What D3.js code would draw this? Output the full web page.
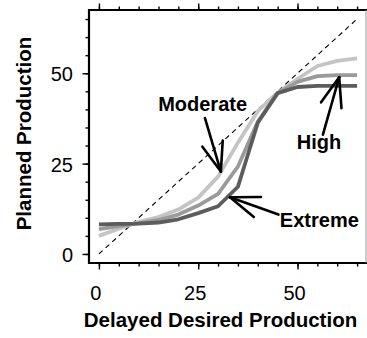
<!DOCTYPE html>
<html>
<head>
<meta charset="utf-8">
<script src="https://cdn.jsdelivr.net/npm/d3@7"></script>
<style>
  html, body { margin: 0; padding: 0; background: #fff; }
  svg { display: block; font-family: "Liberation Sans", Arial, Helvetica, sans-serif; }
</style>
</head>
<body>
<script>
// Delayed desired production (x) sampled every 5 units
const xValues = [0, 5, 10, 15, 20, 25, 30, 35, 40, 45, 50, 55, 60, 65];

// Planned production for each smoothing scenario
const moderate = [5.0, 7.0, 8.9, 10.2, 12.3, 15.6, 21.4, 30.8, 39.5, 44.6, 48.4, 52.0, 53.4, 54.1];
const high     = [6.9, 7.7, 8.5, 9.4, 10.9, 13.4, 16.6, 24.2, 36.6, 44.5, 47.6, 49.2, 49.5, 49.5];
const extreme  = [8.2, 8.3, 8.4, 8.7, 9.6, 11.3, 13.2, 18.6, 36.3, 44.5, 46.2, 46.5, 46.5, 46.5];

const seriesNames = ["Moderate", "High", "Extreme"];
const seriesColors = ["#c4c4c4", "#9a9a9a", "#5c5c5c"];

// Reference diagonal (planned = desired)
const diagonal = [[0, 0], [65, 65]];

// Axis ticks
const minorTicks = [0, 5, 10, 15, 20, 25, 30, 35, 40, 45, 50, 55, 60, 65];
const majorTicks = [0, 25, 50];

// Annotations: label anchor and arrow (tail -> tip), in data units
const annoLabels = ["Moderate", "High", "Extreme"];
const annoLabelX = [26.1, 55.4, 55.5];
const annoLabelY = [39.6, 29.0, 7.5];
const arrowTailX = [26.7, 56.4, 45.2];
const arrowTailY = [37.6, 33.0, 10.9];
const arrowTipX  = [30.7, 60.5, 33.0];
const arrowTipY  = [22.8, 48.9, 15.7];

const W = 367, H = 338;
const plotL = 89, plotR = 367, plotT = 10, plotB = 263;

const svg = d3.select("body").append("svg")
  .attr("width", W).attr("height", H);

const x = d3.scaleLinear().domain([-2.5, 67.5]).range([plotL, plotR]);
const y = d3.scaleLinear().domain([-2.5, 67.5]).range([plotB, plotT]);

// Ticks: minor every 5, longer marks at labelled values
function tickAxis(axisFn, scale, transform) {
  const g = svg.append("g").attr("transform", transform);
  g.call(axisFn(scale).tickValues(minorTicks).tickSize(3.5).tickFormat(""));
  g.append("g").call(axisFn(scale).tickValues(majorTicks).tickSize(6.5).tickFormat(""));
  g.selectAll(".domain").remove();
  g.selectAll("line").attr("stroke", "#000").attr("stroke-width", 1.4);
  return g;
}
tickAxis(d3.axisBottom, x, `translate(0,${plotB})`);
tickAxis(d3.axisTop, x, `translate(0,${plotT})`);
tickAxis(d3.axisLeft, y, `translate(${plotL},0)`);

// Tick labels
svg.append("g").selectAll("text").data(majorTicks).join("text")
  .attr("x", d => x(d) - 3).attr("y", 300)
  .attr("text-anchor", "middle")
  .attr("font-size", 20).attr("fill", "#000")
  .text(d => d);
svg.append("g").selectAll("text").data(majorTicks).join("text")
  .attr("x", 73).attr("y", d => y(d)).attr("dy", "0.4em")
  .attr("text-anchor", "end")
  .attr("font-size", 20).attr("fill", "#000")
  .text(d => d);

// Axis titles
svg.append("text")
  .attr("x", 220.5).attr("y", 326.5)
  .attr("text-anchor", "middle")
  .attr("font-size", 20.5).attr("font-weight", "bold").attr("fill", "#000")
  .text("Delayed Desired Production");
svg.append("text")
  .attr("transform", "translate(30.5,133.5) rotate(-90)")
  .attr("text-anchor", "middle")
  .attr("font-size", 20.5).attr("font-weight", "bold").attr("fill", "#000")
  .text("Planned Production");

// Plot area clip
svg.append("clipPath").attr("id", "plotClip")
  .append("rect").attr("x", plotL).attr("y", plotT)
  .attr("width", plotR - plotL).attr("height", plotB - plotT);
const plot = svg.append("g").attr("clip-path", "url(#plotClip)");

// Dashed diagonal
plot.append("path")
  .attr("d", d3.line().x(d => x(d[0])).y(d => y(d[1]))(diagonal))
  .attr("fill", "none").attr("stroke", "#000")
  .attr("stroke-width", 1.1).attr("stroke-dasharray", "5,4");

// Scenario curves
const line = d3.line().x(d => x(d[0])).y(d => y(d[1]));
[moderate, high, extreme].forEach((vals, i) => {
  plot.append("path")
    .datum(xValues.map((xv, j) => [xv, vals[j]]))
    .attr("d", line)
    .attr("fill", "none")
    .attr("stroke", seriesColors[i])
    .attr("stroke-width", 3.8)
    .attr("stroke-linejoin", "round")
    .attr("class", "series-" + seriesNames[i]);
});

// Arrows with open heads
const headLen = 31, headAngle = 20 * Math.PI / 180;
annoLabels.forEach((lab, i) => {
  const tx = x(arrowTipX[i]), ty = y(arrowTipY[i]);
  const sx = x(arrowTailX[i]), sy = y(arrowTailY[i]);
  const ang = Math.atan2(sy - ty, sx - tx);
  const g = svg.append("g").attr("stroke", "#000").attr("stroke-width", 2.6)
    .attr("stroke-linecap", "round");
  g.append("line").attr("x1", sx).attr("y1", sy).attr("x2", tx).attr("y2", ty);
  [-1, 1].forEach(s => {
    g.append("line")
      .attr("x1", tx).attr("y1", ty)
      .attr("x2", tx + headLen * Math.cos(ang + s * headAngle))
      .attr("y2", ty + headLen * Math.sin(ang + s * headAngle));
  });
  svg.append("text")
    .attr("x", x(annoLabelX[i])).attr("y", y(annoLabelY[i]))
    .attr("text-anchor", "middle")
    .attr("font-size", 20).attr("font-weight", "bold").attr("fill", "#000")
    .text(lab);
});

// Frame
svg.append("path")
  .attr("d", `M${plotR},${plotT}H${plotL}V${plotB}H${plotR}`)
  .attr("fill", "none").attr("stroke", "#000").attr("stroke-width", 2.2);
svg.append("line")
  .attr("x1", 366).attr("x2", 366).attr("y1", plotT).attr("y2", plotB)
  .attr("stroke", "#999").attr("stroke-width", 1);
</script>
</body>
</html>
